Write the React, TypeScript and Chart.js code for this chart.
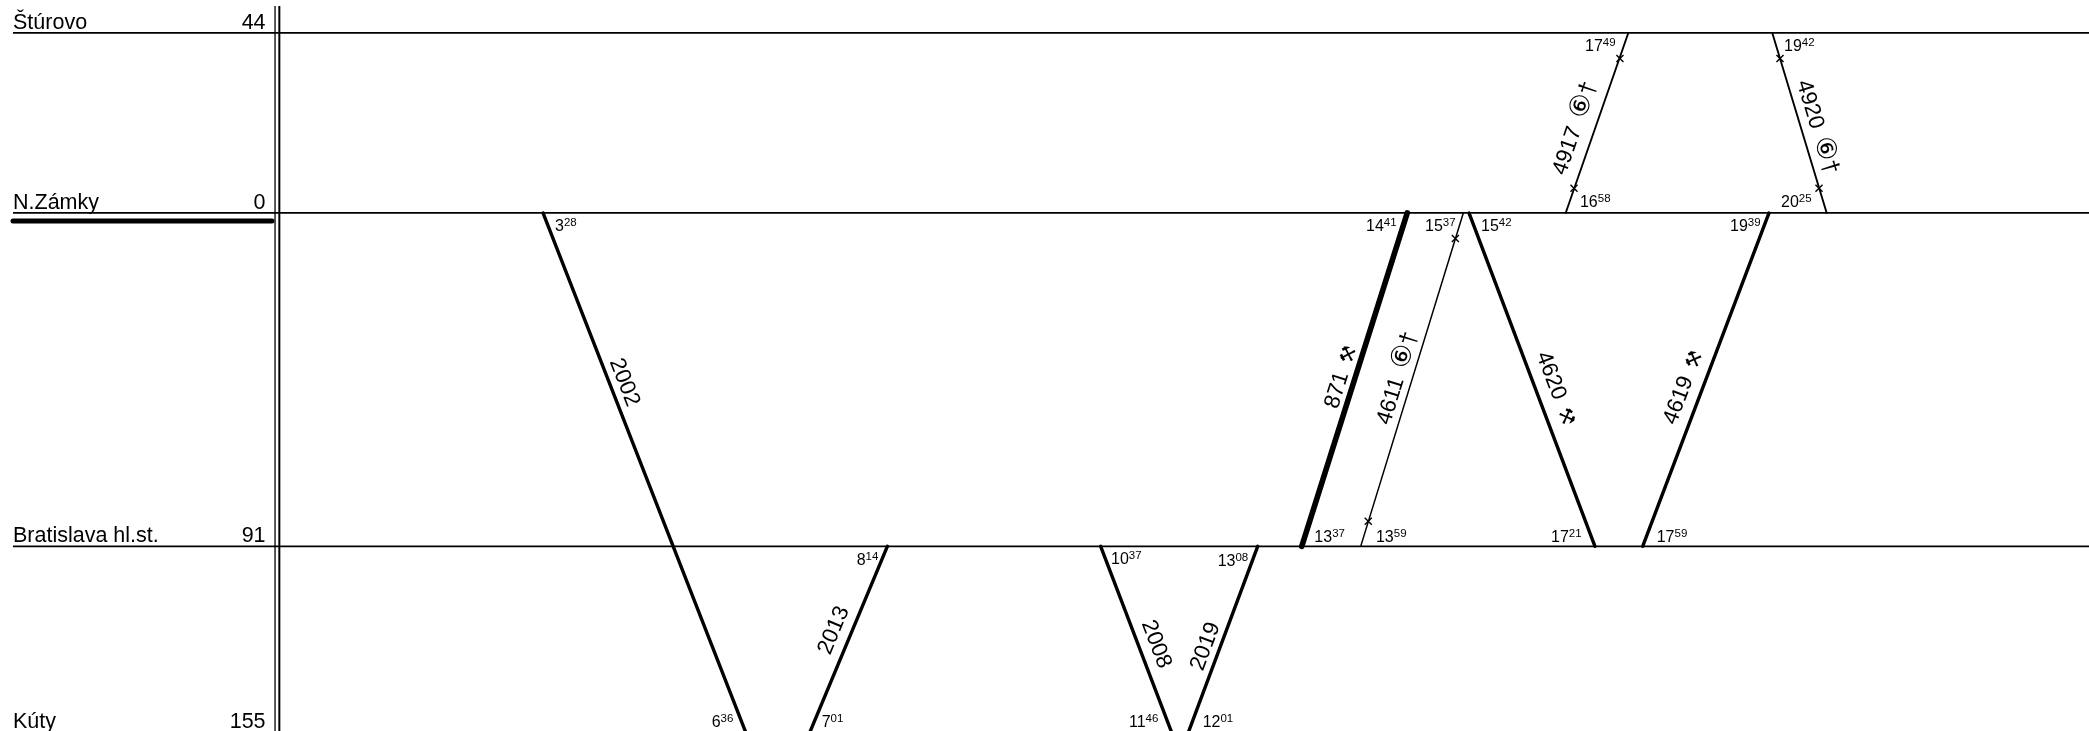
import React, { useEffect, useRef } from "react";
import { Chart, registerables } from "chart.js";

Chart.register(...registerables);

// Stations (position on the diagram's distance axis, printed km)
const stationNames = ["Štúrovo", "N.Zámky", "Bratislava hl.st.", "Kúty"];
const stationKm = ["44", "0", "91", "155"];
const stationPos = [-49.13, 0, 91, 141.65];
const stationLabelPos = [-50.2, -1.1, 89.9, 140.5];

// Train paths: time axis (minutes) and distance-axis position of both ends
const trainNames = ["2002", "2013", "2008", "2019", "871", "4611", "4620", "4619", "4917", "4920"];
const trainSymbols = ["", "", "", "", "⚒", "⑥†", "⚒", "⚒", "⑥†", "⑥†"];
const trainStartT = [208.2, 481.0, 650.0, 774.4, 892.9, 937.3, 941.8, 1179.5, 1018.4, 1182.1];
const trainEndT = [368.7, 419.7, 706.1, 719.6, 809.3, 856.0, 1041.6, 1079.4, 1068.0, 1225.2];
const trainStartPos = [0, 91, 91, 91, 0, 0, 0, 0, 0, -49.13];
const trainEndPos = [141.65, 141.65, 141.65, 141.65, 91, 91, 91, 91, -49.13, 0];
const trainWeights = [3.4, 3.4, 3.4, 3.4, 5.6, 1.5, 3.4, 3.4, 1.9, 1.9];
const trainLabelT = [273.6, 437.7, 694.9, 732.2, 839.6, 884.5, 1011.5, 1110.8, 1025, 1218.3];
const trainLabelPos = [46.1, 113.8, 117.6, 118.2, 44.7, 45.0, 47.8, 47.5, -23.2, -23.5];

// Stop markers on the thin trains
const markerT = [1025, 1061.4, 1188.2, 1219.1, 931, 862];
const markerPos = [-6.74, -42.17, -42.17, -6.74, 6.96, 84.14];

// Printed times: hour, minute, anchor
const timeHours = ["3", "17", "19", "16", "20", "19", "14", "15", "15", "13", "13", "17", "17", "8", "6", "7", "10", "13", "11", "12"];
const timeMinutes = ["28", "49", "42", "58", "25", "39", "41", "37", "42", "37", "59", "21", "59", "14", "36", "01", "37", "08", "46", "01"];
const timeT = [217.7, 1033.7, 1191.4, 1029.7, 1189, 1148.6, 860.2, 907, 951.3, 819.3, 868.1, 1006.8, 1090.5, 456.7, 341.8, 429, 658.2, 742.7, 672.4, 730.8];
const timePos = [5.05, -44.2, -44.2, -1.64, -1.64, 4.96, 4.96, 4.96, 4.96, 89.8, 89.8, 89.8, 89.8, 96.1, 140.3, 140.3, 95.8, 96.3, 140.3, 140.3];

const X_MIN = -222;
const X_MAX = 1433;
const Y_MIN = -58.13;
const Y_MAX = 141.4;
const LEFT_T = -211.7;
const KM_T = -11.6;
const RULE_A = -4.1;
const RULE_B = -0.7;
const RULE_TOP = -56.5;
const UNDERLINE_POS = 2.18;
const UNDERLINE_END = -6.5;

const FONT = '"Liberation Sans", "DejaVu Sans", "Noto Sans CJK SC", sans-serif';
const NAME_FONT = `22.3px ${FONT}`;
const symbolFont = (ch: string) => (ch === "⑥" ? `27px ${FONT}` : ch === "†" ? `24px ${FONT}` : `19.5px ${FONT}`);

const textPlugin = {
  id: "timetableText",
  afterDatasetsDraw(chart: any) {
    const { ctx, scales } = chart;
    const x = scales.x;
    const y = scales.y;
    ctx.save();
    ctx.fillStyle = "#000";
    ctx.textBaseline = "alphabetic";

    stationNames.forEach((name, i) => {
      const py = y.getPixelForValue(stationLabelPos[i]);
      ctx.font = `21.5px ${FONT}`;
      ctx.textAlign = "left";
      ctx.fillText(name, x.getPixelForValue(LEFT_T), py);
      ctx.textAlign = "right";
      ctx.fillText(stationKm[i], x.getPixelForValue(KM_T), py);
    });

    ctx.textAlign = "left";
    timeHours.forEach((h, i) => {
      const px = x.getPixelForValue(timeT[i]);
      const py = y.getPixelForValue(timePos[i]);
      ctx.font = `16px ${FONT}`;
      ctx.fillText(h, px, py);
      const w = ctx.measureText(h).width;
      ctx.font = `11.5px ${FONT}`;
      ctx.fillText(timeMinutes[i], px + w, py - 5);
    });

    trainNames.forEach((name, i) => {
      const ax = x.getPixelForValue(trainStartT[i]);
      const ay = y.getPixelForValue(trainStartPos[i]);
      const bx = x.getPixelForValue(trainEndT[i]);
      const by = y.getPixelForValue(trainEndPos[i]);
      let angle = Math.atan2(by - ay, bx - ax);
      if (angle > Math.PI / 2) angle -= Math.PI;
      if (angle < -Math.PI / 2) angle += Math.PI;
      ctx.save();
      ctx.translate(x.getPixelForValue(trainLabelT[i]), y.getPixelForValue(trainLabelPos[i]));
      ctx.rotate(angle);
      ctx.textAlign = "left";
      ctx.textBaseline = "alphabetic";
      const symbols = Array.from(trainSymbols[i]);
      ctx.font = NAME_FONT;
      const nameW = ctx.measureText(name).width;
      const gap = symbols.length ? 10 : 0;
      const widths = symbols.map((s) => {
        ctx.font = symbolFont(s);
        return ctx.measureText(s).width;
      });
      const total = nameW + gap + widths.reduce((a, b) => a + b, 0);
      let cur = -total / 2;
      ctx.font = NAME_FONT;
      ctx.fillText(name, cur, 7.5);
      cur += nameW + gap;
      symbols.forEach((s, k) => {
        ctx.font = symbolFont(s);
        ctx.fillText(s, cur, 7.5);
        cur += widths[k];
      });
      ctx.restore();
    });
    ctx.restore();
  },
};

export default function App() {
  const ref = useRef<HTMLCanvasElement>(null);
  useEffect(() => {
    const canvas = ref.current!;
    const datasets: any[] = [];
    stationPos.forEach((p) => {
      datasets.push({
        data: [{ x: LEFT_T, y: p }, { x: X_MAX, y: p }],
        borderColor: "#000",
        borderWidth: 1.7,
        pointRadius: 0,
      });
    });
    datasets.push({
      data: [{ x: LEFT_T, y: UNDERLINE_POS }, { x: UNDERLINE_END, y: UNDERLINE_POS }],
      borderColor: "#000",
      borderWidth: 5,
      borderCapStyle: "round",
      pointRadius: 0,
    });
    [RULE_A, RULE_B].forEach((r, i) => {
      datasets.push({
        data: [{ x: r, y: RULE_TOP }, { x: r, y: Y_MAX }],
        borderColor: "#000",
        borderWidth: i === 0 ? 1.3 : 2,
        pointRadius: 0,
      });
    });
    trainNames.forEach((_, i) => {
      datasets.push({
        label: trainNames[i],
        data: [
          { x: trainStartT[i], y: trainStartPos[i] },
          { x: trainEndT[i], y: trainEndPos[i] },
        ],
        borderColor: "#000",
        borderWidth: trainWeights[i],
        borderCapStyle: "round",
        pointRadius: 0,
      });
    });
    datasets.push({
      data: markerT.map((t, i) => ({ x: t, y: markerPos[i] })),
      showLine: false,
      pointStyle: "crossRot",
      pointRadius: 5,
      pointBorderColor: "#000",
      pointBorderWidth: 1.4,
    });

    const chart = new Chart(canvas, {
      type: "scatter",
      data: { datasets },
      options: {
        animation: false,
        responsive: false,
        maintainAspectRatio: false,
        devicePixelRatio: 1,
        showLine: true,
        layout: { padding: 0, autoPadding: false },
        plugins: { legend: { display: false }, tooltip: { enabled: false } },
        scales: {
          x: { type: "linear", min: X_MIN, max: X_MAX, display: false },
          y: { type: "linear", min: Y_MIN, max: Y_MAX, reverse: true, display: false },
        },
      } as any,
      plugins: [textPlugin],
    });
    return () => chart.destroy();
  }, []);
  return (
    <canvas
      ref={ref}
      width={2089}
      height={731}
      style={{ position: "fixed", left: 0, top: 0, width: 2089, height: 731, display: "block", background: "#fff" }}
    />
  );
}
